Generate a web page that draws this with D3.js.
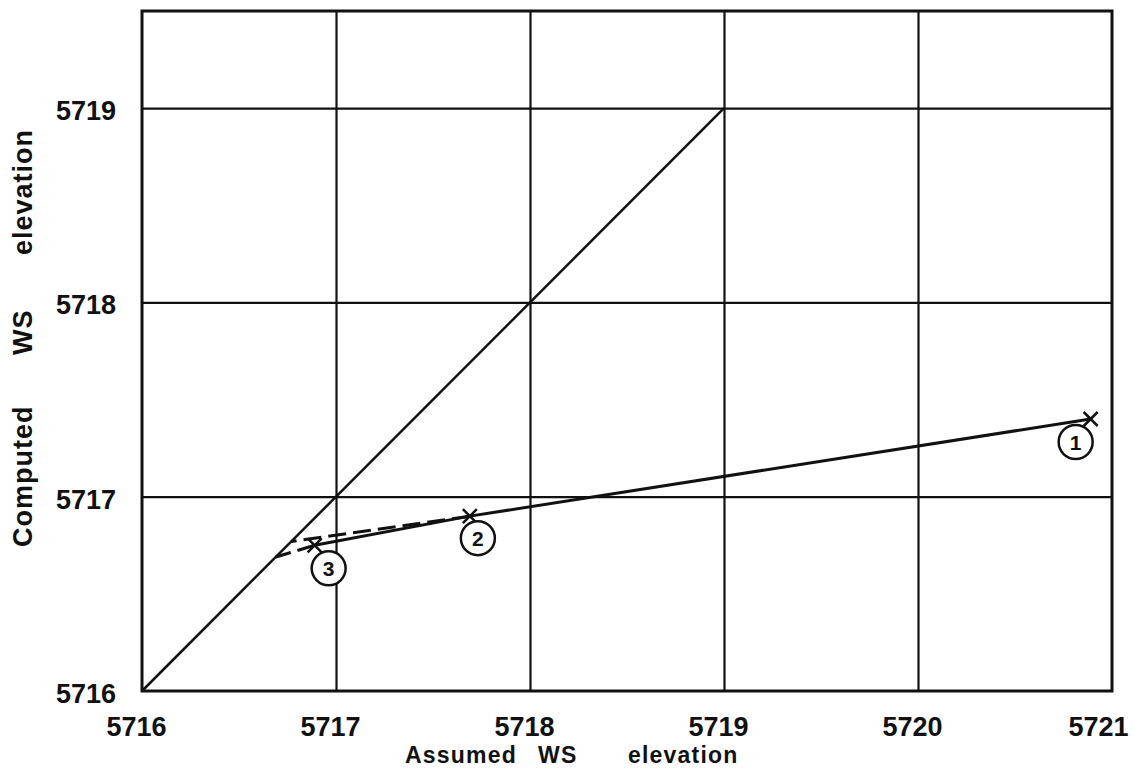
<!DOCTYPE html>
<html>
<head>
<meta charset="utf-8">
<script src="https://cdn.jsdelivr.net/npm/d3@7"></script>
<style>
  body { margin: 0; background: #fff; }
  text { font-family: "Liberation Sans", Arial, sans-serif; font-weight: bold; fill: #111; }
</style>
</head>
<body>
<div id="chart"></div>
<script>
// data
var xTicks = [5716, 5717, 5718, 5719, 5720, 5721];
var yTicks = [5716, 5717, 5718, 5719];
var xGrid = [5717, 5718, 5719, 5720];
var yGrid = [5717, 5718, 5719];
var equalLine = [5716, 5719];          // computed = assumed
var assumed = [5720.89, 5717.69, 5716.89];
var computed = [5717.40, 5716.90, 5716.75];
var trialLabels = ["1", "2", "3"];
var dashEnd12 = [5716.77, 5716.77];    // line 1-2 extended to the diagonal
var dashEnd23 = [5716.69, 5716.69];    // line 2-3 extended to the diagonal
var xTitle = ["Assumed", "WS", "elevation"];
var yTitle = ["Computed", "WS", "elevation"];

function init(){

 var margin = {left: 142, top: 11},
     width = 970,
     height = 680;

 var svg = d3.select("#chart")
         .append("svg")
         .attr("width", 1135)
         .attr("height", 774)
         .append("g")
         .attr("transform", "translate(" + margin.left + "," + margin.top + ")");

 var x = d3.scaleLinear()
   .domain([5716, 5721])
   .range([0, width]);

 var y = d3.scaleLinear()
   .domain([5716, 5719.5])
   .range([height, 0]);

 // grid
 svg.append("g")
   .attr("class", "grid")
   .attr("transform", "translate(0," + height + ")")
   .call(d3.axisBottom(x).tickValues(xGrid).tickSize(-height).tickFormat(""));
 svg.append("g")
   .attr("class", "grid")
   .call(d3.axisLeft(y).tickValues(yGrid).tickSize(-width).tickFormat(""));
 svg.selectAll(".grid .domain").remove();
 svg.selectAll(".grid line")
   .attr("stroke", "#111")
   .attr("stroke-width", 2.2);

 // frame
 svg.append("rect")
   .attr("x", 0)
   .attr("y", 0)
   .attr("width", width)
   .attr("height", height)
   .attr("fill", "none")
   .attr("stroke", "#111")
   .attr("stroke-width", 3);

 // tick labels
 var xAxis = svg.append("g")
   .attr("transform", "translate(0," + height + ")")
   .call(d3.axisBottom(x).tickValues(xTicks).tickSize(0).tickPadding(26).tickFormat(d3.format("d")));
 xAxis.select(".domain").remove();
 xAxis.selectAll("text")
   .attr("dx", function(d){ return d === 5721 ? -14 : -6; })
   .style("font-size", "27px")
   .style("font-family", "'Liberation Sans', Arial, sans-serif");

 var yAxis = svg.append("g")
   .call(d3.axisLeft(y).tickValues(yTicks).tickSize(0).tickPadding(26).tickFormat(d3.format("d")));
 yAxis.select(".domain").remove();
 yAxis.selectAll("text")
   .attr("dy", "0.42em")
   .style("font-size", "27px")
   .style("font-family", "'Liberation Sans', Arial, sans-serif");

 // axis titles, word by word like the lettering guide
 var xWordStart = [405, 538, 628];
 svg.selectAll("xtitle")
   .data(xTitle)
   .enter()
   .append("text")
   .attr("x", function(d, i){ return xWordStart[i] - margin.left; })
   .attr("y", 763 - margin.top)
   .style("font-size", "23px")
   .style("letter-spacing", "1.2px")
   .text(function(d){ return d; });

 var yWordStart = [547, 355, 255];
 svg.selectAll("ytitle")
   .data(yTitle)
   .enter()
   .append("text")
   .attr("transform", "rotate(-90)")
   .attr("x", function(d, i){ return -(yWordStart[i] - margin.top); })
   .attr("y", 32 - margin.left)
   .style("font-size", "27px")
   .style("letter-spacing", "1px")
   .text(function(d){ return d; });

 // 45 degree line
 svg.append("line")
   .attr("x1", x(equalLine[0]))
   .attr("y1", y(equalLine[0]))
   .attr("x2", x(equalLine[1]))
   .attr("y2", y(equalLine[1]))
   .attr("stroke", "#111")
   .attr("stroke-width", 2.5);

 var pts = assumed.map(function(d, i){ return {x: d, y: computed[i], label: trialLabels[i]}; });

 var line = d3.line()
   .x(function(d){ return x(d.x); })
   .y(function(d){ return y(d.y); });

 // solid trial line
 svg.append("path")
   .datum(pts)
   .attr("d", line)
   .attr("fill", "none")
   .attr("stroke", "#111")
   .attr("stroke-width", 3);

 // dashed extensions to the diagonal
 var dashes = [
   [pts[1], {x: dashEnd12[0], y: dashEnd12[1]}],
   [pts[2], {x: dashEnd23[0], y: dashEnd23[1]}]
 ];
 svg.selectAll("dashline")
   .data(dashes)
   .enter()
   .append("path")
   .attr("d", line)
   .attr("fill", "none")
   .attr("stroke", "#111")
   .attr("stroke-width", 3)
   .attr("stroke-dasharray", "18,7");

 // x markers
 var s = 7;
 var mk = svg.selectAll("marker")
   .data(pts)
   .enter()
   .append("g")
   .attr("transform", function(d){ return "translate(" + x(d.x) + "," + y(d.y) + ")"; });
 mk.append("path")
   .attr("d", "M" + (-s) + "," + (-s) + "L" + s + "," + s + "M" + (-s) + "," + s + "L" + s + "," + (-s))
   .attr("stroke", "#111")
   .attr("stroke-width", 2.5);

 // circled trial numbers
 var offs = [[-15, 23], [8, 22], [14, 23]];
 var lab = svg.selectAll("trial")
   .data(pts)
   .enter()
   .append("g")
   .attr("transform", function(d, i){ return "translate(" + (x(d.x) + offs[i][0]) + "," + (y(d.y) + offs[i][1]) + ")"; });
 lab.append("circle")
   .attr("r", 17)
   .attr("fill", "#fff")
   .attr("stroke", "#111")
   .attr("stroke-width", 2.5);
 lab.append("text")
   .attr("text-anchor", "middle")
   .attr("dy", "0.36em")
   .style("font-size", "21px")
   .text(function(d){ return d.label; });
}
window.onload = init;
</script>
</body>
</html>
